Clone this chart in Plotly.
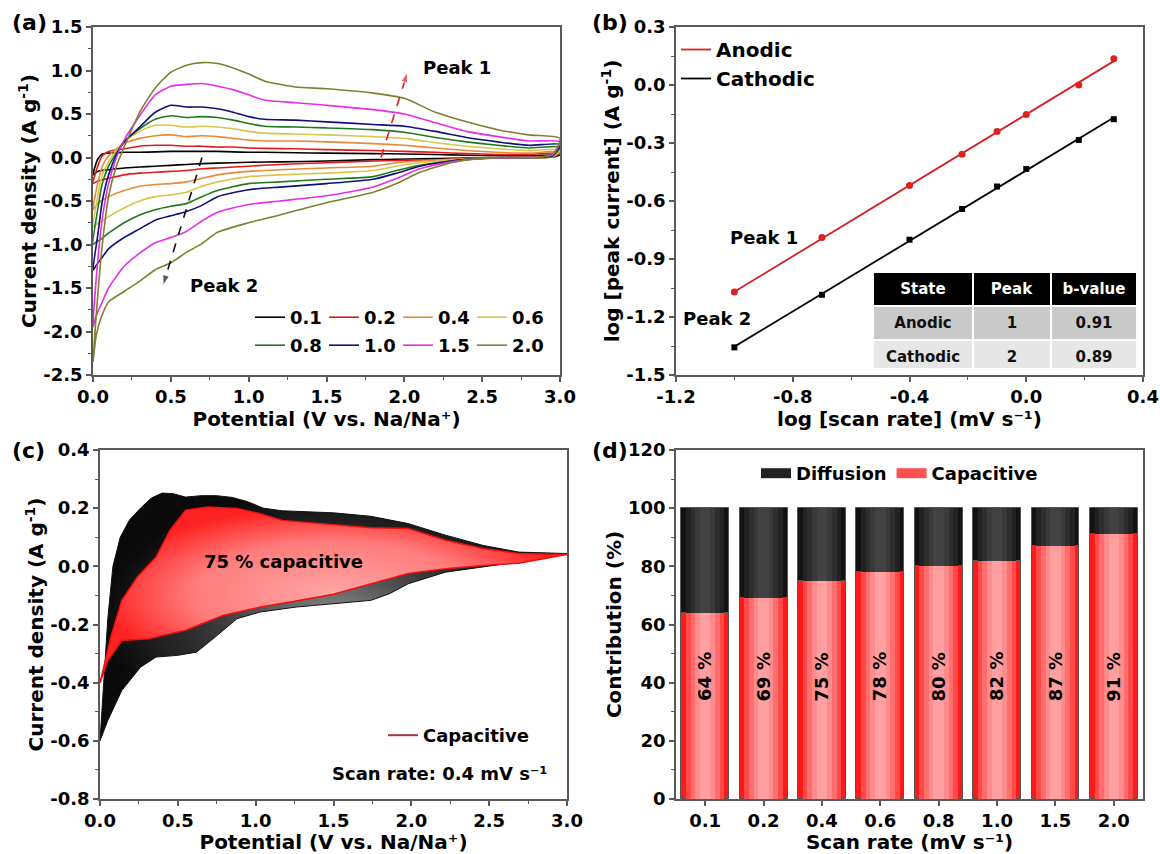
import numpy as np
import plotly.graph_objects as go

FONT = "DejaVu Sans"
W, H = 1160, 854

# ---------------- (a) CV curves at different scan rates ----------------
scan_rate_labels = ["0.1", "0.2", "0.4", "0.6", "0.8", "1.0", "1.5", "2.0"]
cv_colors = ["#000000", "#e31a1c", "#e8893c", "#d8c64a", "#1f7a1f", "#10107a", "#e52ee5", "#7f7f2e"]

E_anodic = [0, 0.03, 0.06, 0.1, 0.15, 0.2, 0.3, 0.4, 0.5, 0.6, 0.7, 0.8, 0.9, 1.0, 1.1, 1.3, 1.5, 1.8,
            2.0, 2.2, 2.4, 2.6, 2.8, 3.0]
E_cathodic = [2.95, 2.7, 2.5, 2.3, 2.1, 1.95, 1.8, 1.5, 1.2, 1.0, 0.8, 0.7, 0.6, 0.5, 0.4, 0.3, 0.2, 0.1,
              0.05, 0.02, 0.0]

i_anodic_01 = [-0.2, -0.02, 0.04, 0.05, 0.055, 0.06, 0.06, 0.065, 0.07, 0.07, 0.07, 0.07, 0.065, 0.06,
               0.06, 0.055, 0.05, 0.045, 0.04, 0.035, 0.025, 0.02, 0.02, 0.03]
i_anodic_02 = [-0.3, -0.1, 0.02, 0.07, 0.09, 0.1, 0.13, 0.14, 0.14, 0.13, 0.13, 0.12, 0.12, 0.11,
               0.105, 0.1, 0.09, 0.08, 0.07, 0.06, 0.045, 0.035, 0.035, 0.05]
i_anodic_04 = [-0.6, -0.3, -0.1, 0.02, 0.1, 0.16, 0.22, 0.25, 0.26, 0.24, 0.25, 0.24, 0.22, 0.2,
               0.19, 0.19, 0.18, 0.16, 0.14, 0.11, 0.08, 0.06, 0.05, 0.07]
i_anodic_06 = [-0.8, -0.45, -0.2, -0.05, 0.08, 0.18, 0.3, 0.37, 0.37, 0.35, 0.36, 0.35, 0.33, 0.3,
               0.28, 0.27, 0.26, 0.24, 0.22, 0.17, 0.13, 0.1, 0.08, 0.09]
i_anodic_08 = [-1.0, -0.6, -0.3, -0.1, 0.05, 0.18, 0.33, 0.44, 0.48, 0.46, 0.47, 0.46, 0.43, 0.39,
               0.36, 0.35, 0.34, 0.32, 0.29, 0.23, 0.18, 0.14, 0.11, 0.12]
i_anodic_10 = [-1.3, -0.9, -0.5, -0.2, 0.03, 0.18, 0.35, 0.52, 0.6, 0.58, 0.58, 0.56, 0.52, 0.47,
               0.44, 0.43, 0.41, 0.38, 0.36, 0.3, 0.23, 0.18, 0.14, 0.15]
i_anodic_15 = [-1.95, -1.2, -0.7, -0.3, 0.0, 0.2, 0.48, 0.72, 0.82, 0.84, 0.85, 0.82, 0.78, 0.72,
               0.66, 0.63, 0.6, 0.55, 0.5, 0.4, 0.3, 0.24, 0.19, 0.18]
i_anodic_20 = [-2.35, -1.6, -1.0, -0.45, -0.1, 0.12, 0.52, 0.8, 0.98, 1.06, 1.09, 1.08, 1.03, 0.96,
               0.88, 0.81, 0.79, 0.74, 0.68, 0.52, 0.41, 0.32, 0.26, 0.22]

i_cathodic_01 = [0.005, 0.0, -0.005, -0.01, -0.015, -0.02, -0.025, -0.04, -0.05, -0.055, -0.065, -0.07,
                 -0.08, -0.09, -0.1, -0.11, -0.12, -0.14, -0.15, -0.17, -0.2]
i_cathodic_02 = [0.005, 0.0, -0.01, -0.02, -0.03, -0.035, -0.04, -0.06, -0.08, -0.1, -0.12, -0.13,
                 -0.15, -0.16, -0.17, -0.18, -0.2, -0.24, -0.26, -0.28, -0.3]
i_cathodic_04 = [0.01, 0.0, -0.01, -0.02, -0.04, -0.06, -0.1, -0.12, -0.14, -0.16, -0.2, -0.24,
                 -0.28, -0.3, -0.31, -0.33, -0.38, -0.45, -0.5, -0.55, -0.6]
i_cathodic_06 = [0.01, 0.0, -0.01, -0.03, -0.06, -0.1, -0.15, -0.18, -0.2, -0.22, -0.28, -0.33,
                 -0.4, -0.43, -0.45, -0.5, -0.58, -0.68, -0.74, -0.77, -0.8]
i_cathodic_08 = [0.015, 0.0, -0.01, -0.04, -0.09, -0.15, -0.22, -0.25, -0.28, -0.3, -0.38, -0.45,
                 -0.53, -0.56, -0.6, -0.66, -0.75, -0.87, -0.94, -0.97, -1.0]
i_cathodic_10 = [0.02, 0.0, -0.01, -0.04, -0.1, -0.18, -0.25, -0.3, -0.34, -0.37, -0.45, -0.55,
                 -0.62, -0.67, -0.72, -0.82, -0.92, -1.05, -1.17, -1.24, -1.3]
i_cathodic_15 = [0.03, 0.0, -0.01, -0.05, -0.13, -0.24, -0.34, -0.44, -0.5, -0.54, -0.63, -0.73,
                 -0.85, -0.92, -0.98, -1.1, -1.25, -1.5, -1.7, -1.82, -1.95]
i_cathodic_20 = [0.03, 0.0, -0.01, -0.06, -0.17, -0.3, -0.4, -0.52, -0.66, -0.75, -0.86, -0.99,
                 -1.09, -1.21, -1.29, -1.42, -1.54, -1.66, -1.85, -2.05, -2.35]

anodic_sets = [i_anodic_01, i_anodic_02, i_anodic_04, i_anodic_06, i_anodic_08, i_anodic_10, i_anodic_15, i_anodic_20]
cathodic_sets = [i_cathodic_01, i_cathodic_02, i_cathodic_04, i_cathodic_06, i_cathodic_08, i_cathodic_10,
                 i_cathodic_15, i_cathodic_20]

a_xticks = [0, 0.5, 1.0, 1.5, 2.0, 2.5, 3.0]
a_xticktext = ["0.0", "0.5", "1.0", "1.5", "2.0", "2.5", "3.0"]
a_yticks = [1.5, 1.0, 0.5, 0.0, -0.5, -1.0, -1.5, -2.0, -2.5]
a_yticktext = ["1.5", "1.0", "0.5", "0.0", "-0.5", "-1.0", "-1.5", "-2.0", "-2.5"]

# ---------------- (b) log(peak current) vs log(scan rate) ----------------
log_scan_rate = [-1.0, -0.70, -0.40, -0.22, -0.10, 0.0, 0.18, 0.30]
log_ip_anodic = [-1.071, -0.789, -0.52, -0.358, -0.241, -0.152, 0.0, 0.136]
log_ip_cathodic = [-1.357, -1.085, -0.80, -0.641, -0.525, -0.434, -0.284, -0.177]
b_xticks = [-1.2, -0.8, -0.4, 0.0, 0.4]
b_xticktext = ["-1.2", "-0.8", "-0.4", "0.0", "0.4"]
b_yticks = [0.3, 0.0, -0.3, -0.6, -0.9, -1.2, -1.5]
b_yticktext = ["0.3", "0.0", "-0.3", "-0.6", "-0.9", "-1.2", "-1.5"]
table_header = ["State", "Peak", "b-value"]
table_state = ["Anodic", "Cathodic"]
table_peak = ["1", "2"]
table_b = ["0.91", "0.89"]

# ---------------- (c) capacitive contribution at 0.4 mV/s ----------------
E_total_up = [0, 0.024, 0.05, 0.083, 0.13, 0.19, 0.26, 0.33, 0.40, 0.47, 0.55, 0.65, 0.75, 0.85, 0.95,
              1.05, 1.17, 1.5, 1.74, 1.98, 2.22, 2.46, 2.69, 3.0]
i_total_up = [-0.6, -0.4, -0.18, 0.0, 0.1, 0.16, 0.2, 0.235, 0.252, 0.25, 0.238, 0.243, 0.243, 0.237,
              0.222, 0.2, 0.191, 0.184, 0.172, 0.147, 0.107, 0.072, 0.049, 0.044]
E_total_down = [2.69, 2.46, 2.22, 1.98, 1.86, 1.74, 1.5, 1.26, 1.03, 0.88, 0.74, 0.62, 0.5, 0.36, 0.26,
                0.14, 0.05, 0]
i_total_down = [0.015, -0.002, -0.02, -0.06, -0.094, -0.117, -0.129, -0.14, -0.157, -0.18, -0.243,
                -0.295, -0.306, -0.312, -0.347, -0.427, -0.53, -0.6]
E_cap_up = [0, 0.07, 0.14, 0.24, 0.36, 0.45, 0.55, 0.69, 0.88, 1.03, 1.17, 1.5, 1.74, 1.98, 2.22, 2.46,
            2.69, 3.0]
i_cap_up = [-0.4, -0.243, -0.117, -0.037, 0.032, 0.124, 0.193, 0.204, 0.199, 0.181, 0.158, 0.144, 0.133,
            0.13, 0.09, 0.061, 0.044, 0.041]
E_cap_down = [2.69, 2.46, 2.22, 1.98, 1.74, 1.5, 1.26, 1.03, 0.79, 0.55, 0.31, 0.14, 0.05, 0]
i_cap_down = [0.011, 0.003, -0.008, -0.025, -0.06, -0.096, -0.119, -0.14, -0.169, -0.22, -0.249, -0.255,
              -0.324, -0.4]
c_yticks = [0.4, 0.2, 0.0, -0.2, -0.4, -0.6, -0.8]
c_yticktext = ["0.4", "0.2", "0.0", "-0.2", "-0.4", "-0.6", "-0.8"]

# ---------------- (d) contribution bars ----------------
bar_categories = ["0.1", "0.2", "0.4", "0.6", "0.8", "1.0", "1.5", "2.0"]
capacitive_pct = [64, 69, 75, 78, 80, 82, 87, 91]
diffusion_pct = [36, 31, 25, 22, 20, 18, 13, 9]
bar_labels = ["64 %", "69 %", "75 %", "78 %", "80 %", "82 %", "87 %", "91 %"]

# ======================================================================
fig = go.Figure()
BOLD = "bold"

# (a)
for k, lab in enumerate(scan_rate_labels):
    fig.add_trace(go.Scatter(
        x=E_anodic + E_cathodic, y=anodic_sets[k] + cathodic_sets[k],
        mode="lines", name=lab, line=dict(color=cv_colors[k], width=1.6, shape="spline", smoothing=0.6),
        xaxis="x", yaxis="y", legend="legend" if k < 4 else "legend2", hoverinfo="skip"))

# peak arrows in (a)
fig.add_trace(go.Scatter(x=[1.85, 2.02], y=[0.0, 0.98], mode="lines+markers", showlegend=False,
                         line=dict(color="#e02020", width=1.6, dash="dash"),
                         marker=dict(symbol=["circle", "arrow"], size=[1, 11], angleref="previous",
                                     color="#e02020"), xaxis="x", yaxis="y", hoverinfo="skip"))
fig.add_trace(go.Scatter(x=[0.70, 0.45], y=[0.0, -1.47], mode="lines+markers", showlegend=False,
                         line=dict(color="#111111", width=1.6, dash="dash"),
                         marker=dict(symbol=["circle", "arrow"], size=[1, 11], angleref="previous",
                                     color="#111111"), xaxis="x", yaxis="y", hoverinfo="skip"))

# (b)
lx = np.array([min(log_scan_rate), max(log_scan_rate)])
pa = np.polyfit(log_scan_rate, log_ip_anodic, 1)
pc = np.polyfit(log_scan_rate, log_ip_cathodic, 1)
fig.add_trace(go.Scatter(x=lx, y=np.polyval(pa, lx), mode="lines", name="Anodic",
                         line=dict(color="#d62020", width=1.8), xaxis="x2", yaxis="y2", legend="legend3"))
fig.add_trace(go.Scatter(x=lx, y=np.polyval(pc, lx), mode="lines", name="Cathodic",
                         line=dict(color="#000000", width=1.8), xaxis="x2", yaxis="y2", legend="legend3"))
fig.add_trace(go.Scatter(x=log_scan_rate, y=log_ip_anodic, mode="markers", showlegend=False,
                         marker=dict(symbol="circle", size=7, color="#e02020"), xaxis="x2", yaxis="y2"))
fig.add_trace(go.Scatter(x=log_scan_rate, y=log_ip_cathodic, mode="markers", showlegend=False,
                         marker=dict(symbol="square", size=6, color="#000000"), xaxis="x2", yaxis="y2"))

fig.add_trace(go.Table(
    domain=dict(x=[873 / W, 1137 / W], y=[1 - 369 / H, 1 - 272 / H]),
    columnwidth=[100, 78, 86],
    header=dict(values=["<b>%s</b>" % s for s in table_header], fill_color="#000000",
                font=dict(family=FONT, size=15, color="white"), align="center", height=31,
                line=dict(color="white", width=2)),
    cells=dict(values=[["<b>%s</b>" % s for s in table_state], ["<b>%s</b>" % s for s in table_peak],
                       ["<b>%s</b>" % s for s in table_b]],
               fill_color=[["#c9c9c9", "#e6e6e6"]] * 3,
               font=dict(family=FONT, size=15, color="#111111"), align="center", height=33,
               line=dict(color="white", width=2))))

# (c)
fig.add_trace(go.Scatter(x=E_total_up + E_total_down, y=i_total_up + i_total_down, mode="lines",
                         fill="toself", line=dict(color="#111111", width=1),
                         fillgradient=dict(type="radial", colorscale=[[0, "#8a8a8a"], [0.5, "#3a3a3a"], [1, "#0a0a0a"]]),
                         showlegend=False, xaxis="x3", yaxis="y3", hoverinfo="skip"))
fig.add_trace(go.Scatter(x=E_cap_up + E_cap_down, y=i_cap_up + i_cap_down, mode="lines",
                         fill="toself", line=dict(color="#ee1111", width=1.5),
                         fillgradient=dict(type="radial", colorscale=[[0, "#ffa6a6"], [0.6, "#ff7c7c"], [1, "#ff2222"]]),
                         showlegend=False, xaxis="x3", yaxis="y3", hoverinfo="skip"))
fig.add_trace(go.Scatter(x=[None], y=[None], mode="lines", name="Capacitive",
                         line=dict(color="#b03030", width=2), xaxis="x3", yaxis="y3", legend="legend4"))

# (d) stacked bars with gradient emulated by overlaid layers
layer_widths = [0.82, 0.66, 0.5, 0.34, 0.18]
red_layers = ["#ff1a1a", "#ff4a4a", "#ff6e6e", "#ff8c8c", "#ff9f9f"]
dark_layers = ["#121212", "#222222", "#2e2e2e", "#393939", "#424242"]
for j, wdt in enumerate(layer_widths):
    fig.add_trace(go.Bar(x=bar_categories, y=capacitive_pct, width=wdt, marker_color=red_layers[j],
                         marker_line=dict(color="#555555", width=1 if j == 0 else 0),
                         showlegend=False, xaxis="x4", yaxis="y4", hoverinfo="skip"))
    fig.add_trace(go.Bar(x=bar_categories, y=diffusion_pct, base=capacitive_pct, width=wdt,
                         marker_color=dark_layers[j],
                         marker_line=dict(color="#555555", width=1 if j == 0 else 0),
                         showlegend=False, xaxis="x4", yaxis="y4", hoverinfo="skip"))
fig.add_trace(go.Scatter(x=[None], y=[None], mode="lines", name="Diffusion",
                         line=dict(color="#222222", width=13), xaxis="x4", yaxis="y4", legend="legend5"))
fig.add_trace(go.Scatter(x=[None], y=[None], mode="lines", name="Capacitive",
                         line=dict(color="#ff5050", width=13), xaxis="x4", yaxis="y4", legend="legend5"))

# ---------------- layout ----------------
AX = "#5a5a5a"
tickfont = dict(family=FONT, size=18, color="black", weight=BOLD)
titlefont = dict(family=FONT, size=20, color="black", weight=BOLD)


def axis(domain, rng, anchor, tickvals=None, ticktext=None, minor_dtick=None, title=None, **kw):
    d = dict(domain=domain, range=rng, anchor=anchor, showline=True, linecolor=AX, linewidth=1.5,
             mirror=True, ticks="outside", ticklen=5, tickwidth=1.5, tickcolor=AX, showgrid=False,
             zeroline=False, tickfont=tickfont, automargin=False,
             title=dict(text=title, font=titlefont, standoff=1))
    if tickvals is not None:
        d.update(tickmode="array", tickvals=tickvals, ticktext=ticktext)
    if minor_dtick is not None:
        d["minor"] = dict(tickmode="linear", tick0=0, dtick=minor_dtick, ticks="outside", ticklen=3,
                          tickwidth=1.2, tickcolor=AX, showgrid=False)
    d.update(kw)
    return d


xa = [93 / W, 560 / W]
xb = [676 / W, 1143 / W]
xc = [100 / W, 567 / W]
ytop = [1 - 375 / H, 1 - 27 / H]
ybot = [1 - 799 / H, 1 - 450 / H]

legend_common = dict(bgcolor="rgba(0,0,0,0)", borderwidth=0, xanchor="left", yanchor="top",
                     font=dict(family=FONT, size=18, color="black", weight=BOLD))

fig.update_layout(
    template="none",
    width=W, height=H, margin=dict(l=0, r=0, t=0, b=0, autoexpand=False),
    paper_bgcolor="white", plot_bgcolor="white",
    font=dict(family=FONT, color="black", weight=BOLD),
    barmode="overlay", bargap=0,
    xaxis=axis(xa, [0, 3], "y", a_xticks, a_xticktext, 0.25, "Potential (V vs. Na/Na⁺)"),
    yaxis=axis(ytop, [-2.5, 1.5], "x", a_yticks, a_yticktext, 0.25, "Current density (A g<sup>-1</sup>)"),
    xaxis2=axis(xb, [-1.2, 0.4], "y2", b_xticks, b_xticktext, 0.2, "log [scan rate] (mV s⁻¹)"),
    yaxis2=axis(ytop, [-1.5, 0.3], "x2", b_yticks, b_yticktext, 0.15, "log [peak current] (A g<sup>-1</sup>)"),
    xaxis3=axis(xc, [0, 3], "y3", a_xticks, a_xticktext, 0.25, "Potential (V vs. Na/Na⁺)"),
    yaxis3=axis(ybot, [-0.8, 0.4], "x3", c_yticks, c_yticktext, 0.1, "Current density (A g<sup>-1</sup>)"),
    xaxis4=axis(xb, [-0.5, 7.5], "y4", None, None, None, "Scan rate (mV s⁻¹)", type="category"),
    yaxis4=axis(ybot, [0, 120], "x4", None, None, 10, "Contribution (%)", dtick=20, tick0=0),
    legend=dict(legend_common, x=250 / W, y=1 - 299 / H, orientation="h", entrywidth=29),
    legend2=dict(legend_common, x=250 / W, y=1 - 327 / H, orientation="h", entrywidth=29),
    legend3=dict(legend_common, x=676 / W, y=1 - 30 / H, orientation="v",
                 font=dict(family=FONT, size=20, color="black", weight=BOLD)),
    legend4=dict(legend_common, x=383 / W, y=1 - 717 / H, orientation="v"),
    legend5=dict(legend_common, x=756 / W, y=1 - 455 / H, orientation="h"),
    showlegend=True,
)

ann = []
for lab, px, py in [("(a)", 10, 22), ("(b)", 590, 22), ("(c)", 10, 450), ("(d)", 590, 450)]:
    ann.append(dict(text=lab, x=px / W, y=1 - py / H, xref="paper", yref="paper", xanchor="left",
                    yanchor="middle", showarrow=False, font=dict(family=FONT, size=22, weight=BOLD)))
txt = dict(showarrow=False, font=dict(family=FONT, size=18, color="black", weight=BOLD))
ann += [
    dict(txt, text="Peak 1", x=2.34, y=1.04, xref="x", yref="y"),
    dict(txt, text="Peak 2", x=0.84, y=-1.47, xref="x", yref="y"),
    dict(txt, text="Peak 1", x=-0.90, y=-0.79, xref="x2", yref="y2"),
    dict(txt, text="Peak 2", x=-1.06, y=-1.21, xref="x2", yref="y2"),
    dict(txt, text="75 % capacitive", x=1.18, y=0.015, xref="x3", yref="y3"),
    dict(txt, text="Scan rate: 0.4 mV s⁻¹", x=2.18, y=-0.711, xref="x3", yref="y3"),
]
for k, lab in enumerate(bar_labels):
    ann.append(dict(txt, text=lab, x=k, y=42, xref="x4", yref="y4", textangle=-90))
fig.update_layout(annotations=ann)

fig.write_html("out.html", config={"displayModeBar": False},
               post_script="document.body.style.margin='0px';document.body.style.overflow='hidden';")
